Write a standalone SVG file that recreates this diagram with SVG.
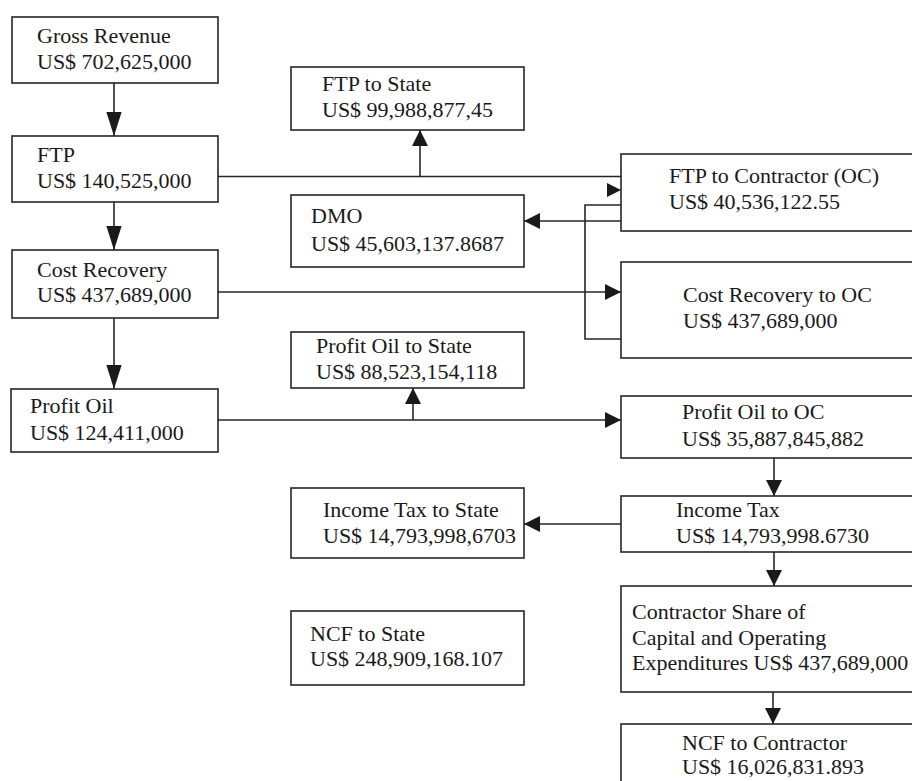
<svg xmlns="http://www.w3.org/2000/svg" width="912" height="781" viewBox="0 0 912 781">
<style>
.box{fill:#fff;stroke:#262626;stroke-width:1.6}
.t{font-family:"Liberation Serif","Times New Roman",serif;font-size:22px;fill:#1a1a1a}
.c{fill:none;stroke:#262626;stroke-width:1.6}
.ah{fill:#1a1a1a}
</style>
<defs>
<marker id="big" markerUnits="userSpaceOnUse" markerWidth="24" markerHeight="16" viewBox="0 0 22 14" refX="22" refY="7" orient="auto"><path d="M0,0 L22,7 L0,14 Z" class="ah"/></marker>
<marker id="sm" markerUnits="userSpaceOnUse" markerWidth="16" markerHeight="16" viewBox="0 0 14 14" refX="14" refY="7" orient="auto"><path d="M0,0 L14,7 L0,14 Z" class="ah"/></marker>
</defs>
<rect width="912" height="781" fill="#fff"/>
<g id="connectors">
<line class="c" x1="114" y1="83" x2="114" y2="136" marker-end="url(#big)"/>
<line class="c" x1="114" y1="202" x2="114" y2="250" marker-end="url(#big)"/>
<line class="c" x1="114" y1="318" x2="114" y2="389" marker-end="url(#big)"/>
<line class="c" x1="218" y1="176.5" x2="621" y2="176.5"/>
<line class="c" x1="420" y1="176.5" x2="420" y2="130" marker-end="url(#sm)"/>
<path class="ah" d="M607,183 L621,190 L607,197 Z"/>
<line class="c" x1="621" y1="221" x2="524" y2="221" marker-end="url(#sm)"/>
<polyline class="c" points="621,205 585,205 585,339 621,339"/>
<line class="c" x1="218" y1="292" x2="621" y2="292" marker-end="url(#sm)"/>
<line class="c" x1="218" y1="420" x2="621" y2="420" marker-end="url(#sm)"/>
<line class="c" x1="413" y1="420" x2="413" y2="388" marker-end="url(#sm)"/>
<line class="c" x1="774" y1="458" x2="774" y2="496" marker-end="url(#sm)"/>
<line class="c" x1="621" y1="524" x2="524" y2="524" marker-end="url(#sm)"/>
<line class="c" x1="774" y1="552" x2="774" y2="586" marker-end="url(#sm)"/>
<line class="c" x1="773" y1="692" x2="773" y2="724" marker-end="url(#sm)"/>
</g>
<g id="gross-revenue"><rect class="box" x="12" y="17" width="206" height="66"/><text class="t" x="37" y="43">Gross Revenue</text><text class="t" x="37" y="69">US$ 702,625,000</text></g>
<g id="ftp"><rect class="box" x="12" y="136" width="206" height="66"/><text class="t" x="37" y="162">FTP</text><text class="t" x="37" y="188">US$ 140,525,000</text></g>
<g id="cost-recovery"><rect class="box" x="12" y="250" width="206" height="68"/><text class="t" x="37" y="277">Cost Recovery</text><text class="t" x="37" y="302">US$ 437,689,000</text></g>
<g id="profit-oil"><rect class="box" x="11" y="389" width="207" height="63"/><text class="t" x="30" y="413">Profit Oil</text><text class="t" x="30" y="440">US$ 124,411,000</text></g>
<g id="ftp-to-state"><rect class="box" x="291" y="67" width="233" height="63"/><text class="t" x="322" y="91">FTP to State</text><text class="t" x="322" y="117">US$ 99,988,877,45</text></g>
<g id="dmo"><rect class="box" x="291" y="195" width="233" height="72"/><text class="t" x="311" y="223">DMO</text><text class="t" x="311" y="251">US$ 45,603,137.8687</text></g>
<g id="profit-oil-to-state"><rect class="box" x="291" y="332" width="233" height="56"/><text class="t" x="316" y="353">Profit Oil to State</text><text class="t" x="316" y="379">US$ 88,523,154,118</text></g>
<g id="income-tax-to-state"><rect class="box" x="291" y="488" width="233" height="70"/><text class="t" x="323" y="517">Income Tax to State</text><text class="t" x="323" y="543">US$ 14,793,998,6703</text></g>
<g id="ncf-to-state"><rect class="box" x="291" y="611" width="233" height="74"/><text class="t" x="310" y="641">NCF to State</text><text class="t" x="310" y="666">US$ 248,909,168.107</text></g>
<g id="ftp-to-contractor"><rect class="box" x="621" y="154" width="310" height="77"/><text class="t" x="669" y="183">FTP to Contractor (OC)</text><text class="t" x="669" y="209">US$ 40,536,122.55</text></g>
<g id="cost-recovery-to-oc"><rect class="box" x="621" y="262" width="310" height="96"/><text class="t" x="683" y="302">Cost Recovery to OC</text><text class="t" x="683" y="328">US$ 437,689,000</text></g>
<g id="profit-oil-to-oc"><rect class="box" x="621" y="396" width="310" height="62"/><text class="t" x="682" y="419">Profit Oil to OC</text><text class="t" x="682" y="446">US$ 35,887,845,882</text></g>
<g id="income-tax"><rect class="box" x="621" y="496" width="310" height="56"/><text class="t" x="676" y="517">Income Tax</text><text class="t" x="676" y="543">US$ 14,793,998.6730</text></g>
<g id="contractor-share"><rect class="box" x="621" y="586" width="310" height="106"/><text class="t" x="632" y="619">Contractor Share of</text><text class="t" x="632" y="645">Capital and Operating</text><text class="t" x="632" y="670">Expenditures US$ 437,689,000</text></g>
<g id="ncf-to-contractor"><rect class="box" x="621" y="724" width="310" height="80"/><text class="t" x="682" y="750">NCF to Contractor</text><text class="t" x="682" y="774">US$ 16,026,831.893</text></g>
</svg>
